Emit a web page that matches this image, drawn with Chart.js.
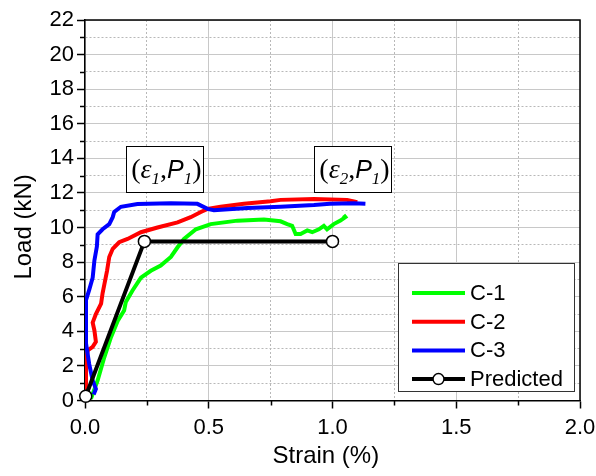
<!DOCTYPE html>
<html><head><meta charset="utf-8">
<script src="https://cdn.jsdelivr.net/npm/chart.js@4"></script>
<style>html,body{margin:0;padding:0;background:#fff}canvas{display:block}</style>
</head><body>
<canvas id="c" width="596" height="476"></canvas>
<script>
// ---- data ----
const seriesNames = ['C-1', 'C-2', 'C-3', 'Predicted'];

const c1Strain = [0.024,0.051,0.078,0.105,0.132,0.158,0.165,0.192,0.226,0.266,0.306,0.347,0.374,0.400,0.448,0.508,0.616,0.723,0.790,0.817,0.837,0.851,0.871,0.898,0.918,0.945,0.965,0.978,1.005,1.032,1.052,1.045];
const c1Load   = [0.10,1.16,2.50,3.66,4.60,5.20,5.70,6.36,7.10,7.50,7.80,8.30,8.86,9.34,9.90,10.20,10.40,10.46,10.36,10.20,10.10,9.63,9.63,9.83,9.73,9.90,10.10,9.90,10.20,10.40,10.60,10.72];

const c2Strain = [0.002,0.004,0.004,0.011,0.031,0.044,0.038,0.031,0.044,0.065,0.071,0.078,0.089,0.098,0.112,0.138,0.172,0.226,0.293,0.374,0.427,0.468,0.495,0.548,0.642,0.750,0.790,0.925,1.059,1.100];
const c2Load   = [0.45,0.77,2.10,2.90,3.10,3.40,4.05,4.50,5.00,5.60,6.20,6.70,7.50,8.30,8.77,9.15,9.34,9.73,10.00,10.30,10.60,10.90,11.08,11.20,11.37,11.52,11.60,11.65,11.60,11.46];

const c3Strain = [0.035,0.044,0.031,0.017,0.004,0.004,0.004,0.017,0.031,0.038,0.048,0.051,0.071,0.098,0.112,0.118,0.145,0.212,0.347,0.454,0.495,0.521,0.656,0.790,0.925,0.990,1.086,1.133];
const c3Load   = [0.35,0.67,1.16,2.10,3.30,4.80,5.80,6.40,7.10,8.10,8.90,9.60,9.90,10.20,10.60,10.90,11.20,11.36,11.40,11.37,11.08,11.00,11.13,11.20,11.30,11.37,11.40,11.37];

const predStrain = [0.003, 0.24, 1.0];
const predLoad   = [0.25, 9.2, 9.2];

const yMin = 0, yMax = 22, yMajorStep = 2;
const xMin = 0, xMax = 2, xMajorStep = 0.5;
const xTitle = 'Strain (%)';
const yTitle = 'Load (kN)';
const pointSubs = ['1', '2'];   // (ε1,P1), (ε2,P1)

// ---- styles ----
const FONT = '"Liberation Sans", Arial, sans-serif';
const colors = ['#00ff00', '#ff0000', '#0000ff', '#000000'];
const mk = (xs, ys) => xs.map((x, i) => ({x: x, y: ys[i]}));
const isMajorY = v => Math.abs(v / yMajorStep - Math.round(v / yMajorStep)) < 1e-9;
const isMajorX = v => Math.abs(v / xMajorStep - Math.round(v / xMajorStep)) < 1e-9;

const decorPlugin = {
  id: 'decor',
  afterDatasetsDraw(chart) {
    const {ctx, chartArea: ca, scales} = chart;
    const xs = scales.x, ys = scales.y;
    ctx.save();
    // minor ticks
    ctx.strokeStyle = '#000'; ctx.lineWidth = 1.5;
    ctx.beginPath();
    for (let v = yMin; v <= yMax; v += 1) {
      if (isMajorY(v)) continue;
      const py = Math.round(ys.getPixelForValue(v)) + 0.5;
      ctx.moveTo(ca.left - 5, py); ctx.lineTo(ca.left, py);
    }
    for (let v = xMin; v <= xMax + 1e-9; v += 0.25) {
      if (isMajorX(v)) continue;
      const px = Math.round(xs.getPixelForValue(v)) + 0.5;
      ctx.moveTo(px, ca.bottom); ctx.lineTo(px, ca.bottom + 5);
    }
    ctx.stroke();
    // top & right frame
    ctx.beginPath();
    ctx.moveTo(ca.left, ca.top); ctx.lineTo(ca.right, ca.top); ctx.lineTo(ca.right, ca.bottom);
    ctx.stroke();

    // annotation boxes anchored to the predicted markers
    const meta = chart.getDatasetMeta(3);
    [1, 2].forEach((idx, k) => {
      const pt = meta.data[idx];
      const cx = pt.x + 20, cy = pt.y - 72;
      const w = 77, h = 46;
      ctx.fillStyle = '#fff';
      ctx.fillRect(cx - w / 2, cy - h / 2, w, h);
      ctx.strokeStyle = '#000'; ctx.lineWidth = 1;
      ctx.strokeRect(Math.round(cx - w / 2) + 0.5, Math.round(cy - h / 2) + 0.5, w, h);
      const pieces = [
        {t: '(', f: '28px "Liberation Serif", serif', dy: 0},
        {t: 'ε', f: 'italic 28px "Liberation Serif", serif', dy: 0},
        {t: pointSubs[k], f: 'italic 17px "Liberation Serif", serif', dy: 6},
        {t: ',', f: '28px "Liberation Serif", serif', dy: 0},
        {t: 'P', f: 'italic 25px ' + FONT, dy: 0},
        {t: '1', f: 'italic 17px "Liberation Serif", serif', dy: 6},
        {t: ')', f: '28px "Liberation Serif", serif', dy: 0}
      ];
      let total = 0;
      pieces.forEach(p => { ctx.font = p.f; p.w = ctx.measureText(p.t).width; total += p.w; });
      let x = cx - total / 2 + 2;
      const base = cy + 9;
      ctx.fillStyle = '#000'; ctx.textBaseline = 'alphabetic'; ctx.textAlign = 'left';
      pieces.forEach(p => { ctx.font = p.f; ctx.fillText(p.t, x, base + p.dy); x += p.w; });
    });

    // legend box
    const lw = 176, lh = 128;
    const lx = ca.right - 6 - lw, ly = ca.bottom - 9.5 - lh;
    ctx.fillStyle = '#fff';
    ctx.fillRect(lx, ly, lw, lh);
    ctx.strokeStyle = '#333'; ctx.lineWidth = 1;
    ctx.strokeRect(Math.round(lx) + 0.5, Math.round(ly) + 0.5, lw, lh);
    chart.data.datasets.forEach((ds, i) => {
      const ry = ly + 30 + i * 28.7;
      ctx.strokeStyle = ds.borderColor; ctx.lineWidth = 4;
      ctx.beginPath(); ctx.moveTo(lx + 14, ry); ctx.lineTo(lx + 67, ry); ctx.stroke();
      if (ds.pointRadius > 0) {
        ctx.beginPath(); ctx.arc(lx + 40.5, ry, 5.5, 0, Math.PI * 2);
        ctx.fillStyle = '#fff'; ctx.fill();
        ctx.lineWidth = 1.5; ctx.strokeStyle = '#000'; ctx.stroke();
      }
      ctx.fillStyle = '#000'; ctx.font = '22px ' + FONT;
      ctx.textBaseline = 'middle'; ctx.textAlign = 'left';
      ctx.fillText(ds.label, lx + 72, ry + 1);
    });
    ctx.restore();
  }
};

new Chart(document.getElementById('c'), {
  type: 'line',
  data: {
    datasets: [
      {label: seriesNames[0], data: mk(c1Strain, c1Load), borderColor: colors[0], borderWidth: 4, pointRadius: 0, tension: 0, order: 2},
      {label: seriesNames[1], data: mk(c2Strain, c2Load), borderColor: colors[1], borderWidth: 4, pointRadius: 0, tension: 0, order: 1},
      {label: seriesNames[2], data: mk(c3Strain, c3Load), borderColor: colors[2], borderWidth: 4, pointRadius: 0, tension: 0, order: 0},
      {label: seriesNames[3], data: mk(predStrain, predLoad), borderColor: colors[3], borderWidth: 4, pointRadius: 6,
       pointBackgroundColor: '#fff', pointBorderColor: '#000', pointBorderWidth: 1.5, tension: 0, order: -1, clip: false}
    ]
  },
  options: {
    responsive: false, animation: false, devicePixelRatio: 1,
    layout: {padding: {top: 20, right: 16, left: 0, bottom: 0}},
    plugins: {legend: {display: false}, tooltip: {enabled: false}},
    scales: {
      x: {
        type: 'linear', min: xMin, max: xMax,
        ticks: {stepSize: 0.25, autoSkip: false, maxRotation: 0, padding: 6, color: '#000',
                font: {family: FONT, size: 22},
                callback: v => isMajorX(v) ? v.toFixed(1) : ''},
        grid: {color: c => isMajorX(c.tick ? c.tick.value : 0) ? '#c8c8c8' : '#b8b8b8', lineWidth: 1,
               tickColor: c => (c.tick && isMajorX(c.tick.value)) ? '#000' : 'rgba(0,0,0,0)', tickLength: 8, tickWidth: 1.5},
        border: {display: true, color: '#000', width: 1.5,
                 dash: c => (c.tick && !isMajorX(c.tick.value)) ? [2, 2] : []},
        title: {display: true, text: xTitle + '\u00a0\u00a0', color: '#000', font: {family: FONT, size: 24}, padding: {top: 0, bottom: 5}},
        afterFit: s => { s.height = 75.5; s.paddingRight = 16; s.paddingLeft = 0; }
      },
      y: {
        type: 'linear', min: yMin, max: yMax,
        ticks: {stepSize: 1, autoSkip: false, padding: 3, color: '#000',
                font: {family: FONT, size: 22},
                callback: v => isMajorY(v) ? String(v) : ''},
        grid: {color: c => isMajorY(c.tick ? c.tick.value : 0) ? '#c8c8c8' : '#b8b8b8', lineWidth: 1,
               tickColor: c => (c.tick && isMajorY(c.tick.value)) ? '#000' : 'rgba(0,0,0,0)', tickLength: 8, tickWidth: 1.5},
        border: {display: true, color: '#000', width: 1.5,
                 dash: c => (c.tick && !isMajorY(c.tick.value)) ? [2, 2] : []},
        title: {display: true, text: yTitle + '\u00a0\u00a0\u00a0\u00a0\u00a0', color: '#000', font: {family: FONT, size: 24}, padding: {top: 10, bottom: 0}},
        afterFit: s => { s.width = 85; }
      }
    }
  },
  plugins: [decorPlugin]
});
</script>
</body></html>
